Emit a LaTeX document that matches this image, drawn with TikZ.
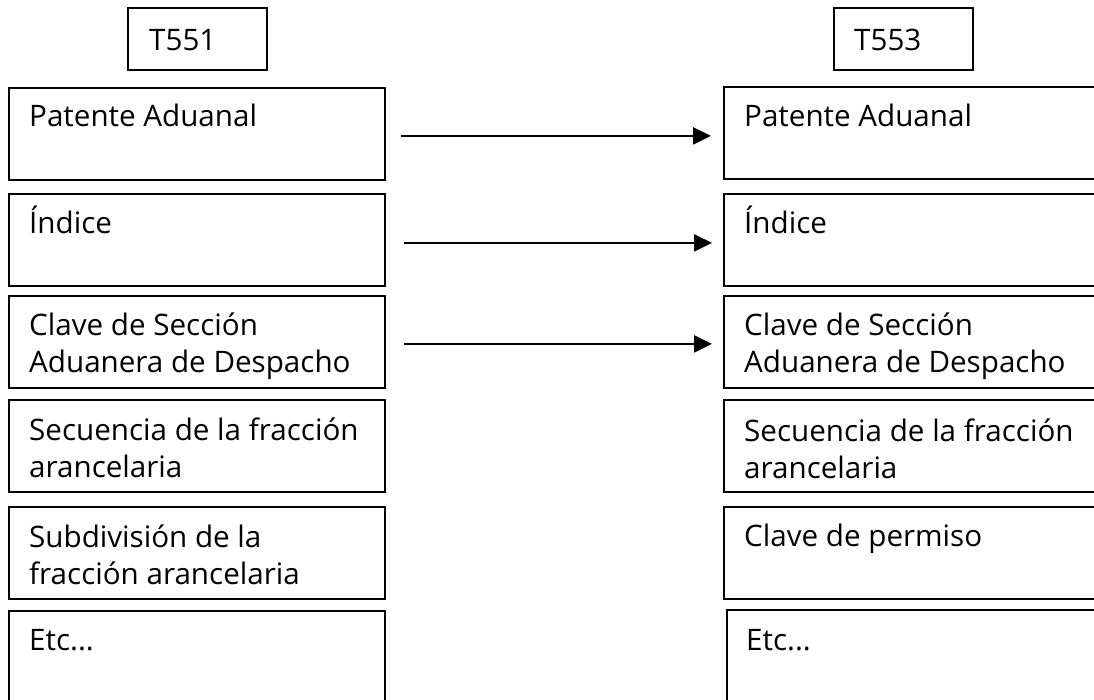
\documentclass[tikz,border=0pt]{standalone}
\usepackage{fontspec}
\setmainfont{Open Sans}
\usetikzlibrary{arrows.meta}
\begin{document}
\begin{tikzpicture}[x=1pt,y=-1pt,
  box/.style={draw=black,line width=1.8pt,rectangle,inner sep=0pt,anchor=north west},
  hbox/.style={box,minimum width=139pt,minimum height=62pt},
  lbox/.style={box,minimum width=376pt,minimum height=92pt},
  rbox/.style={box,minimum width=400pt,minimum height=92pt},
  txt/.style={anchor=base west,inner sep=0pt,align=left,font=\fontsize{29.6}{37}\selectfont},
  conn/.style={line width=2.4pt,-{Triangle[length=18pt,width=17pt]}}]
\useasboundingbox (0,0) rectangle (1094,699);
\clip (0,0) rectangle (1094,699);
% headers
\node[hbox] (h1) at (127,7) {};
\node[txt] (h1t) at (149,50) {T551};
\node[hbox] (h2) at (833,7) {};
\node[txt] (h2t) at (854,50) {T553};
% left column
\node[lbox] (l1) at (8,87) {};
\node[lbox] (l2) at (8,193) {};
\node[lbox] (l3) at (8,295) {};
\node[lbox] (l4) at (8,399) {};
\node[lbox] (l5) at (8,506) {};
\node[lbox,minimum height=110pt] (l6) at (8,610) {};
\node[txt] (l1t) at (29,126) {Patente Aduanal};
\node[txt] (l2t) at (29,233) {Índice};
\node[txt] (l3t) at (29,372) {Clave de Sección\\Aduanera de Despacho};
\node[txt] (l4t) at (29,477) {Secuencia de la fracción\\arancelaria};
\node[txt] (l5t) at (29,584) {Subdivisión de la\\fracción arancelaria};
\node[txt] (l6t) at (29,650) {Etc...};
% right column
\node[rbox] (r1) at (723,86) {};
\node[rbox] (r2) at (723,193) {};
\node[rbox] (r3) at (723,295) {};
\node[rbox] (r4) at (723,399) {};
\node[rbox] (r5) at (723,506) {};
\node[rbox,minimum height=110pt] (r6) at (726,609) {};
\node[txt] (r1t) at (744,126) {Patente Aduanal};
\node[txt] (r2t) at (744,233) {Índice};
\node[txt] (r3t) at (744,372) {Clave de Sección\\Aduanera de Despacho};
\node[txt] (r4t) at (744,478) {Secuencia de la fracción\\arancelaria};
\node[txt] (r5t) at (744,546) {Clave de permiso};
\node[txt] (r6t) at (746,650) {Etc...};
% connectors
\draw[conn] ([xshift=15pt,yshift=-2pt]l1.east) -- ([xshift=-12pt,yshift=-2pt]l1.east -| r1.west);
\draw[conn] ([xshift=18pt,yshift=-3pt]l2.east) -- ([xshift=-11pt,yshift=-3pt]l2.east -| r2.west);
\draw[conn] ([xshift=18pt,yshift=-2pt]l3.east) -- ([xshift=-11pt,yshift=-2pt]l3.east -| r3.west);
\end{tikzpicture}
\end{document}
